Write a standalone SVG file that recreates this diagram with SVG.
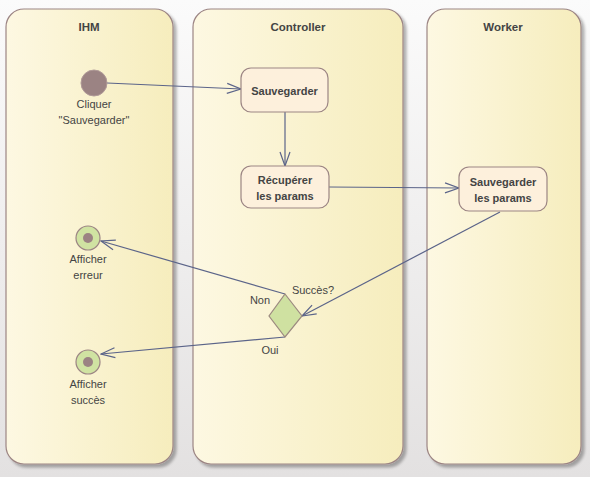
<svg xmlns="http://www.w3.org/2000/svg" width="590" height="477" viewBox="0 0 590 477">
<defs>
  <linearGradient id="bg" x1="0" y1="0" x2="0" y2="1">
    <stop offset="0" stop-color="#fbfbfb"/>
    <stop offset="1" stop-color="#e3e1e1"/>
  </linearGradient>
  <linearGradient id="lane" x1="0" y1="0" x2="1" y2="0">
    <stop offset="0" stop-color="#fdf8e2"/>
    <stop offset="1" stop-color="#f6edbd"/>
  </linearGradient>
  <filter id="sh" x="-10%" y="-10%" width="130%" height="130%">
    <feGaussianBlur in="SourceAlpha" stdDeviation="1.5"/>
    <feOffset dx="3" dy="3" result="b"/>
    <feComponentTransfer><feFuncA type="linear" slope="0.3"/></feComponentTransfer>
    <feMerge><feMergeNode/><feMergeNode in="SourceGraphic"/></feMerge>
  </filter>
  <marker id="arr" markerWidth="16" markerHeight="12" refX="15" refY="6" orient="auto" markerUnits="userSpaceOnUse">
    <path d="M1,1 L15,6 L1,11" fill="none" stroke="#5b6489" stroke-width="1.2"/>
  </marker>
</defs>
<style>
  .lane{fill:url(#lane);stroke:#9c8584;stroke-width:1.2;filter:url(#sh)}
  .title{font-family:"Liberation Sans",Arial,sans-serif;font-size:11.5px;font-weight:bold;fill:#444;text-anchor:middle}
  .act{fill:#fdf0dc;stroke:#9c8584;stroke-width:1.2}
  .atxt{font-family:"Liberation Sans",Arial,sans-serif;font-size:11px;font-weight:bold;fill:#444;text-anchor:middle}
  .lbl{font-family:"Liberation Sans",Arial,sans-serif;font-size:11px;fill:#444;text-anchor:middle}
  .conn{fill:none;stroke:#5b6489;stroke-width:1.2;marker-end:url(#arr)}
  .final{fill:#d0e3a2;stroke:#9c8584;stroke-width:1.2}
  .dot{fill:#9b8383}
</style>
<rect x="0" y="0" width="590" height="477" fill="url(#bg)"/>

<g id="lane-ihm">
  <rect class="lane" x="6" y="9" width="167" height="455" rx="18"/>
  <text class="title" x="89" y="31">IHM</text>
</g>
<g id="lane-controller">
  <rect class="lane" x="193" y="9" width="210" height="455" rx="18"/>
  <text class="title" x="298" y="31">Controller</text>
</g>
<g id="lane-worker">
  <rect class="lane" x="427" y="9" width="154" height="455" rx="18"/>
  <text class="title" x="503" y="31">Worker</text>
</g>

<g id="connectors">
  <path class="conn" d="M107,83 L241,89"/>
  <path class="conn" d="M285,112 L285,166"/>
  <path class="conn" d="M329,187 L459,188"/>
  <path class="conn" d="M500,212 L302,316"/>
  <path class="conn" d="M285,294 L101,241"/>
  <path class="conn" d="M285,337 L101,354"/>
</g>

<g id="start">
  <circle cx="94" cy="83" r="13" fill="#9b8383" stroke="#b09a98" stroke-width="1"/>
  <text class="lbl" x="94" y="108">Cliquer</text>
  <text class="lbl" x="94" y="124">"Sauvegarder"</text>
</g>

<g id="sauvegarder">
  <rect class="act" x="241" y="68" width="87" height="44" rx="10"/>
  <text class="atxt" x="284.5" y="95">Sauvegarder</text>
</g>

<g id="recuperer">
  <rect class="act" x="241" y="166" width="88" height="42" rx="10"/>
  <text class="atxt" x="285" y="184">Récupérer</text>
  <text class="atxt" x="285" y="200">les params</text>
</g>

<g id="sauvegarder-params">
  <rect class="act" x="459" y="167" width="88" height="44" rx="10"/>
  <text class="atxt" x="503" y="186">Sauvegarder</text>
  <text class="atxt" x="503" y="202">les params</text>
</g>

<g id="decision">
  <polygon points="285,294 302,316 285,337 269,316" fill="#cfe1a1" stroke="#9c8a80" stroke-width="1.2"/>
  <text class="lbl" x="313" y="294">Succès?</text>
  <text class="lbl" x="260" y="304">Non</text>
  <text class="lbl" x="270" y="354">Oui</text>
</g>

<g id="afficher-erreur">
  <circle class="final" cx="88" cy="238" r="12"/>
  <circle class="dot" cx="88" cy="238" r="5"/>
  <text class="lbl" x="88" y="263">Afficher</text>
  <text class="lbl" x="88" y="279">erreur</text>
</g>

<g id="afficher-succes">
  <circle class="final" cx="88" cy="362" r="12"/>
  <circle class="dot" cx="88" cy="362" r="5"/>
  <text class="lbl" x="88" y="388">Afficher</text>
  <text class="lbl" x="88" y="404">succès</text>
</g>
</svg>
